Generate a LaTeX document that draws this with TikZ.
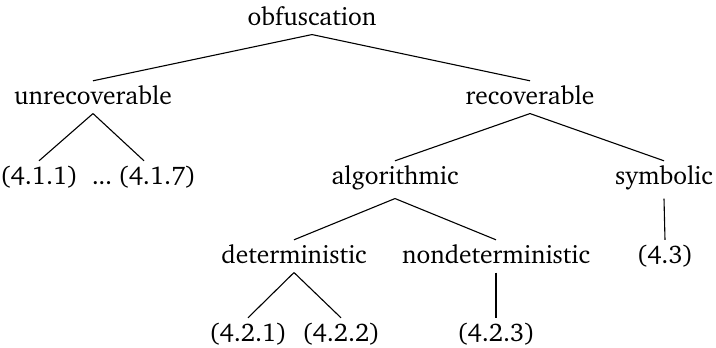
\documentclass[tikz,border=0pt]{standalone}
\usepackage[T1]{fontenc}
\usepackage{charter}
\begin{document}
\begin{tikzpicture}[x=1pt,y=-1pt,
  tn/.style={anchor=base,inner xsep=2pt,inner ysep=9pt,text height=14pt,font=\fontsize{25.5}{30}\selectfont},
  edge/.style={draw,line width=1.1pt}]
\useasboundingbox (0,0) rectangle (716,348);
\node[tn] (obf) at (312,25) {obfuscation};
\node[tn] (unr) at (93,104) {unrecoverable};
\node[tn] (rec) at (530,104) {recoverable};
\node[tn] (a411) at (39,184) {(4.1.1)};
\node[tn] (a417) at (144,184) {.\kern-0.5pt.\kern-0.5pt.\kern6pt(4.1.7)};
\node[tn] (alg) at (395,184) {algorithmic};
\node[tn] (sym) at (664,184) {symbolic};
\node[tn] (det) at (294,263) {deterministic};
\node[tn] (ndet) at (496,263) {nondeterministic};
\node[tn] (a43) at (665,263) {(4.3)};
\node[tn] (a421) at (248,341) {(4.2.1)};
\node[tn] (a422) at (341,341) {(4.2.2)};
\node[tn] (a423) at (496,341) {(4.2.3)};
\draw[edge] (obf.south) -- (unr.north);
\draw[edge] (obf.south) -- (rec.north);
\draw[edge] (unr.south) -- (a411.north);
\draw[edge] (unr.south) -- (a417.north);
\draw[edge] (rec.south) -- (alg.north);
\draw[edge] (rec.south) -- (sym.north);
\draw[edge] (alg.south) -- (det.north);
\draw[edge] (alg.south) -- (ndet.north);
\draw[edge] (sym.south) -- (a43.north);
\draw[edge] (det.south) -- (a421.north);
\draw[edge] (det.south) -- (a422.north);
\draw[edge] (ndet.south) -- (a423.north);
\end{tikzpicture}
\end{document}
